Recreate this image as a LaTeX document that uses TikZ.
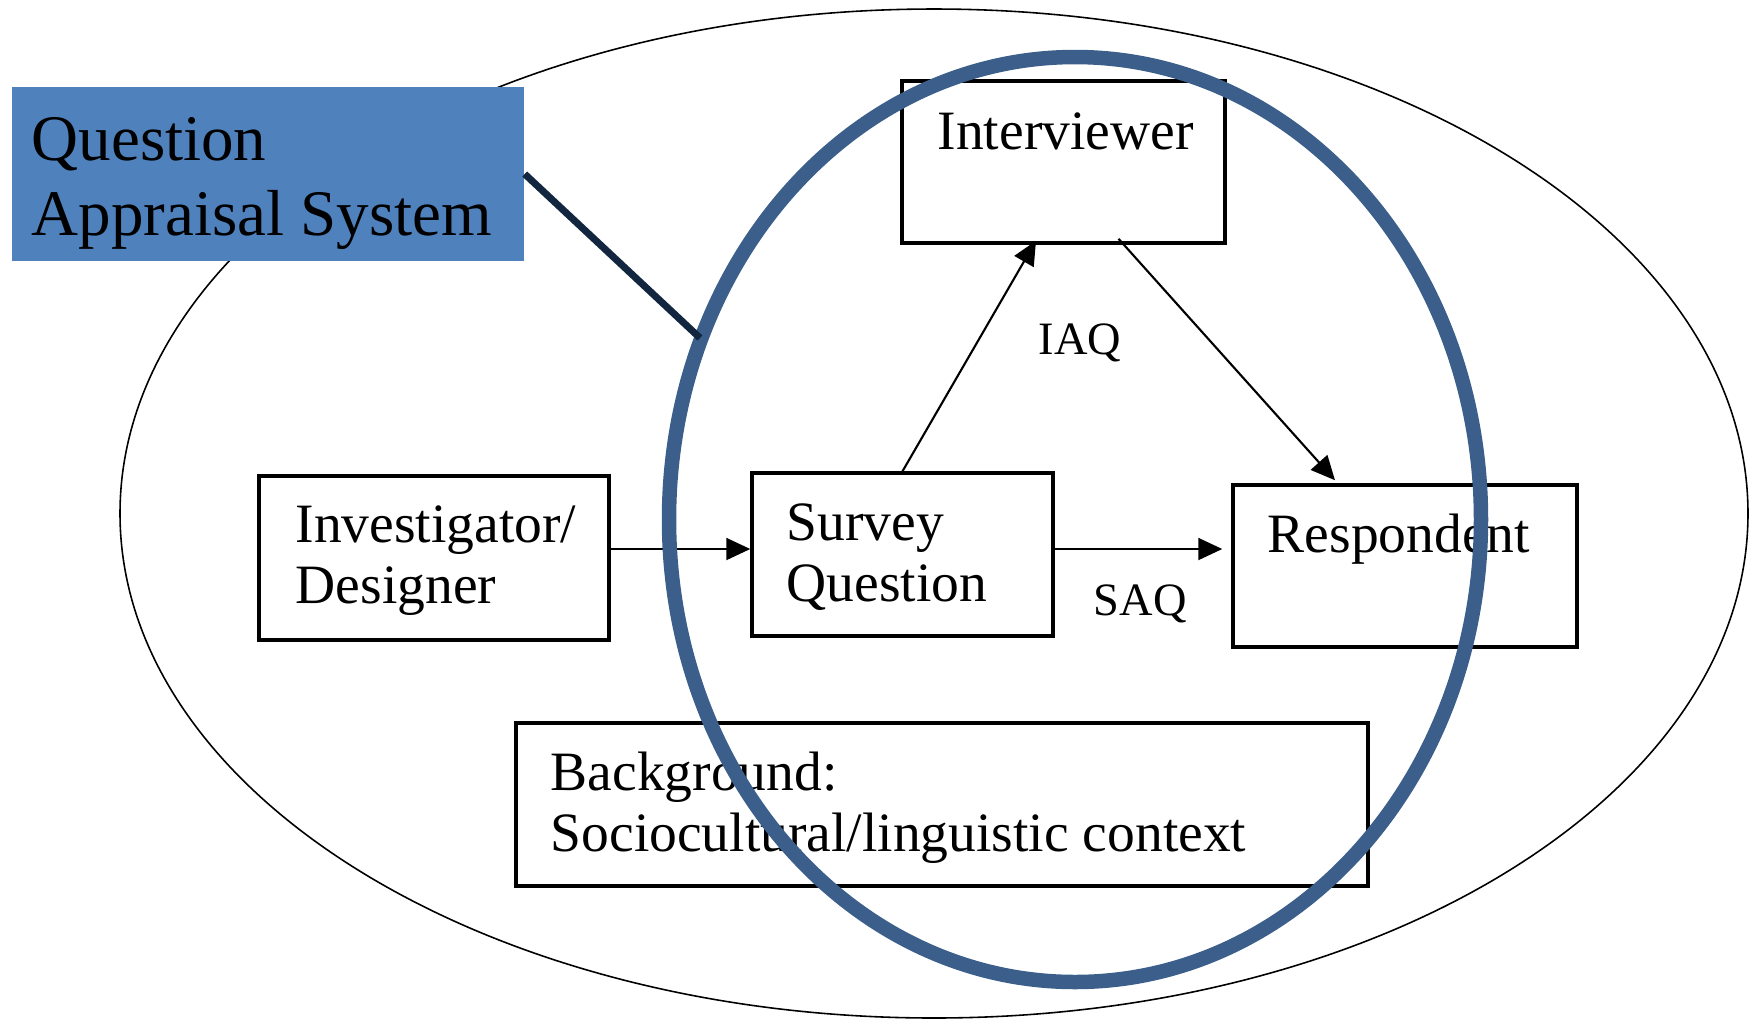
\documentclass[tikz,border=0pt]{standalone}
\usepackage{fontspec}
\setmainfont{Liberation Serif}
\usetikzlibrary{arrows.meta,calc}
\definecolor{qasblue}{HTML}{4F81BD}
\definecolor{ringblue}{HTML}{3B5E8B}
\definecolor{navy}{HTML}{13263F}
\newcommand{\boxfont}{\fontsize{15.8}{17.2}\selectfont}
\newcommand{\tagfont}{\fontsize{13.2}{15}\selectfont}
\newcommand{\qasfont}{\fontsize{18.5}{21.3}\selectfont}

\begin{document}
\begin{tikzpicture}[x=0.1mm, y=-0.1mm,
		box/.style={draw, line width=1pt, inner sep=0pt},
		txt/.style={font=\boxfont, anchor=base west, align=left, inner sep=0pt},
		tag/.style={font=\tagfont, anchor=base west, inner sep=0pt},
		arr/.style={line width=0.6pt, -{Triangle[length=2.4mm, width=2.2mm]}}]
		%%%%% START %%%%%
		\useasboundingbox (0,0) rectangle (1756,1020);
		
		\draw[line width=0.45pt] (934,513.5) ellipse [x radius=81.4mm, y radius=50.45mm];
		
		% the last line of a text sits on its coordinate
		\node[fill=qasblue, minimum width=51.2mm, minimum height=17.4mm, inner sep=0pt] (qas) at (268,174) {};
		\node[font=\qasfont, anchor=base west, align=left, inner sep=0pt] (qastxt) at (31,235) {Question\\Appraisal System};
		
		\node[box, minimum width=35mm, minimum height=16.4mm] (inv) at (434,558) {};
		\node[txt] (invtxt) at (295,603) {Investigator/\\Designer};
		
		\node[box, minimum width=30.1mm, minimum height=16.3mm] (sq) at (902.5,554.5) {};
		\node[txt] (sqtxt) at (786,601) {Survey\\Question};
		
		\node[box, minimum width=32.3mm, minimum height=16.2mm] (int) at (1063.5,162) {};
		\node[txt] (inttxt) at (937,149) {Interviewer};
		
		\node[box, minimum width=34.4mm, minimum height=16.2mm] (resp) at (1405,566) {};
		\node[txt] (resptxt) at (1267,552) {Respondent};
		
		\node[box, minimum width=85.2mm, minimum height=16.3mm] (bg) at (942,804.5) {};
		\node[txt] (bgtxt) at (550,851) {Background:\\Sociocultural/linguistic context};
		
		\node[tag] (iaq) at (1038,354) {IAQ};
		\node[tag] (saq) at (1093,615) {SAQ};
		
		\draw[arr] ($(inv.east)+(0,-9)$) -- ($(sq.west)+(0,-5.5)$);
		\draw[arr, shorten >=0.9mm] ($(sq.east)+(0,-5.5)$) -- ($(resp.west)+(0,-17)$);
		\draw[arr] (sq.north) -- ($(int.south)+(-27.5,-4)$);
		\draw[arr] ($(int.south)+(55,-6)$) -- ($(resp.north)+(-70,-3)$);
		
		\draw[ringblue, line width=1.45mm] (1075,519.5) ellipse [x radius=40.6mm, y radius=46.25mm];
		\coordinate (ringhit) at (700,338);
		\draw[navy, line width=0.7mm] (qas.east) -- (ringhit);
		%%%%% END %%%%%
\end{tikzpicture}
\end{document}
